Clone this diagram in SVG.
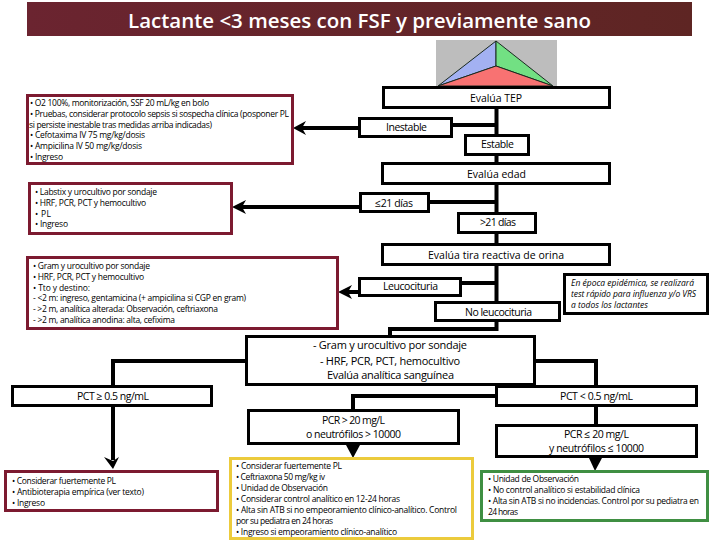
<svg xmlns="http://www.w3.org/2000/svg" width="720" height="540" viewBox="0 0 720 540">
<style>
text{font-family:"Open Sans","Liberation Sans",sans-serif;fill:#000}
.t{font-size:20.5px;fill:#fff;font-weight:600}
.n{font-size:10.5px}
.l{font-size:11px}
.s{font-size:8.5px}
.i{font-size:8.5px;font-style:italic}
.b{fill:#fff;stroke:#000;stroke-width:3}
.r{fill:#fff;stroke:#7c1a30;stroke-width:3}
.y{fill:#fff;stroke:#eccb3c;stroke-width:3}
.g{fill:#fff;stroke:#3f8f42;stroke-width:3}
.c{fill:none;stroke:#000;stroke-width:4}
.h{fill:#000}
.tri{stroke:#1a2a20;stroke-width:1}
</style>
<defs>
<linearGradient id="tg" x1="0" x2="1" y1="0" y2="0"><stop offset="0" stop-color="#6b2430"/><stop offset="1" stop-color="#5e2523"/></linearGradient>
</defs>
<g id="title"><rect x="27" y="2" width="665" height="34" fill="url(#tg)"/><text class="t" x="128" y="28" textLength="463">Lactante &lt;3 meses con FSF y previamente sano</text></g>
<g id="triangle">
<rect x="436" y="40" width="121" height="47" fill="#bdbdbd"/>
<polygon class="tri" points="496,41 496,66 438,86" fill="#a3b1f2"/>
<polygon class="tri" points="496,41 496,66 553,86" fill="#72e083"/>
<polygon class="tri" points="438,86 496,66 553,86" fill="#f87272"/>
</g>
<g id="connectors">
<path class="c" d="M496.5 109V134M496.5 125H453M496.5 156V162M496.5 185V212M496.5 202H430M496.5 234V243M496.5 266V301M496.5 283H462M496.5 322V329H390V335M536 361H596V385M245 361H113V385M495 396H353V409M596 407V424"/>
<path class="c" d="M358 128H300M360 207H240M358 292H346M113 407V460"/>
<path class="h" d="M293 128L306 121L302 128L306 135Z"/>
<path class="h" d="M232 207L246 200L242 207L246 214Z"/>
<path class="h" d="M338 292L352 285L348 292L352 299Z"/>
<path class="h" d="M113 469L104 457L113 461L119 457Z"/>
<path class="h" d="M353 458L346 445H360Z"/>
<path class="h" d="M595 471L589 458H602Z"/>
</g>
<g id="node-tep"><rect class="b" x="383.5" y="87.5" width="226" height="20"/><text class="n" x="470" y="102" textLength="52">Evalúa TEP</text></g>
<g id="node-inestable"><rect class="b" x="359.5" y="118.5" width="92" height="18"/><text class="n" x="386" y="131" textLength="41">Inestable</text></g>
<g id="node-estable"><rect class="b" x="465.5" y="135.5" width="63" height="19"/><text class="n" x="481" y="148" textLength="33">Estable</text></g>
<g id="node-edad"><rect class="b" x="382.5" y="163.5" width="227" height="20"/><text class="n" x="467" y="178" textLength="59">Evalúa edad</text></g>
<g id="node-le21"><rect class="b" x="360.5" y="193.5" width="68" height="18"/><text class="n" x="375" y="207" textLength="38">≤21 días</text></g>
<g id="node-gt21"><rect class="b" x="458.5" y="213.5" width="77" height="19"/><text class="n" x="480" y="226" textLength="36">&gt;21 días</text></g>
<g id="node-tira"><rect class="b" x="382.5" y="244.5" width="227" height="20"/><text class="n" x="428" y="259" textLength="136">Evalúa tira reactiva de orina</text></g>
<g id="node-leuco"><rect class="b" x="359.5" y="278.5" width="101" height="17"/><text class="n" x="383" y="290" textLength="55">Leucocituria</text></g>
<g id="node-noleuco"><rect class="b" x="435.5" y="302.5" width="124" height="18"/><text class="n" x="465" y="316" textLength="67">No leucocituria</text></g>
<g id="node-nota"><rect class="b" x="564.5" y="274.5" width="143" height="39"/>
<text class="i" x="571" y="286" textLength="123">En época epidémica, se realizará</text>
<text class="i" x="571" y="297" textLength="125">test rápido para influenza y/o VRS</text>
<text class="i" x="571" y="308" textLength="77">a todos los lactantes</text></g>
<g id="node-gram"><rect class="b" x="246.5" y="336.5" width="288" height="48"/>
<text class="l" x="313" y="349" textLength="154">- Gram y urocultivo por sondaje</text>
<text class="l" x="320" y="365" textLength="140">- HRF, PCR, PCT, hemocultivo</text>
<text class="l" x="327" y="379" textLength="127">Evalúa analítica sanguínea</text></g>
<g id="node-pct-alta"><rect class="b" x="12.5" y="386.5" width="199" height="19"/><text class="n" x="77" y="400" textLength="72">PCT ≥ 0.5 ng/mL</text></g>
<g id="node-pct-baja"><rect class="b" x="496.5" y="386.5" width="200" height="19"/><text class="n" x="560" y="400" textLength="73">PCT &lt; 0.5 ng/mL</text></g>
<g id="node-pcr-alta"><rect class="b" x="248.5" y="410.5" width="210" height="33"/>
<text class="n" x="322" y="424" textLength="63">PCR &gt; 20 mg/L</text>
<text class="n" x="306" y="438" textLength="95">o neutrófilos &gt; 10000</text></g>
<g id="node-pcr-baja"><rect class="b" x="496.5" y="425.5" width="200" height="31"/>
<text class="n" x="564" y="438" textLength="65">PCR ≤ 20 mg/L</text>
<text class="n" x="549" y="452" textLength="95">y neutrófilos ≤ 10000</text></g>
<g id="box-inestable"><rect class="r" x="27.5" y="95.5" width="265" height="68"/>
<text class="s" x="30" y="106" textLength="179">• O2 100%, monitorización, SSF 20 mL/kg en bolo</text>
<text class="s" x="30" y="117" textLength="259">• Pruebas, considerar protocolo sepsis si sospecha clínica (posponer PL</text>
<text class="s" x="29" y="128" textLength="183">si persiste inestable tras medidas arriba indicadas)</text>
<text class="s" x="30" y="138" textLength="115">• Cefotaxima IV 75 mg/kg/dosis</text>
<text class="s" x="30" y="149" textLength="112">• Ampicilina IV 50 mg/kg/dosis</text>
<text class="s" x="30" y="160" textLength="33">• Ingreso</text></g>
<g id="box-le21"><rect class="r" x="29.5" y="183.5" width="202" height="50"/>
<text class="s" x="35" y="195" textLength="122">• Labstix y urocultivo por sondaje</text>
<text class="s" x="35" y="206" textLength="111">• HRF, PCR, PCT y hemocultivo</text>
<text class="s" x="35" y="216.500" textLength="16">• PL</text>
<text class="s" x="35" y="227" textLength="33">• Ingreso</text></g>
<g id="box-leuco"><rect class="r" x="27.5" y="257.500" width="310" height="71"/>
<text class="s" x="33" y="269" textLength="117">• Gram y urocultivo por sondaje</text>
<text class="s" x="33" y="280" textLength="111">• HRF, PCR, PCT y hemocultivo</text>
<text class="s" x="33" y="291" textLength="57">• Tto y destino:</text>
<text class="s" x="33" y="301" textLength="213">- &lt;2 m: ingreso, gentamicina (+ ampicilina si CGP en gram)</text>
<text class="s" x="33" y="312" textLength="185">- &gt;2 m, analítica alterada: Observación, ceftriaxona</text>
<text class="s" x="33" y="323" textLength="142">- &gt;2 m, analítica anodina: alta, cefixima</text></g>
<g id="box-pct-alta"><rect class="r" x="5.500" y="471.500" width="212" height="39"/>
<text class="s" x="12" y="484" textLength="104">• Considerar fuertemente PL</text>
<text class="s" x="12" y="495" textLength="132">• Antibioterapia empírica (ver texto)</text>
<text class="s" x="12" y="506" textLength="33">• Ingreso</text></g>
<g id="box-pcr-alta"><rect class="y" x="230.500" y="458.500" width="242" height="80"/>
<text class="s" x="236" y="469" textLength="106">• Considerar fuertemente PL</text>
<text class="s" x="236" y="480" textLength="89">• Ceftriaxona 50 mg/kg iv</text>
<text class="s" x="236" y="491" textLength="92">• Unidad de Observación</text>
<text class="s" x="236" y="502" textLength="164">• Considerar control analítico en 12-24 horas</text>
<text class="s" x="236" y="513" textLength="221">• Alta sin ATB si no empeoramiento clínico-analítico. Control</text>
<text class="s" x="236" y="524" textLength="97">por su pediatra en 24 horas</text>
<text class="s" x="236" y="535" textLength="161">• Ingreso si empeoramiento clínico-analítico</text></g>
<g id="box-pcr-baja"><rect class="g" x="481.500" y="471.500" width="226" height="49"/>
<text class="s" x="488" y="482" textLength="91">• Unidad de Observación</text>
<text class="s" x="488" y="493" textLength="152">• No control analítico si estabilidad clínica</text>
<text class="s" x="488" y="504" textLength="211">• Alta sin ATB si no incidencias. Control por su pediatra en</text>
<text class="s" x="488" y="515" textLength="30">24 horas</text></g>
</svg>
